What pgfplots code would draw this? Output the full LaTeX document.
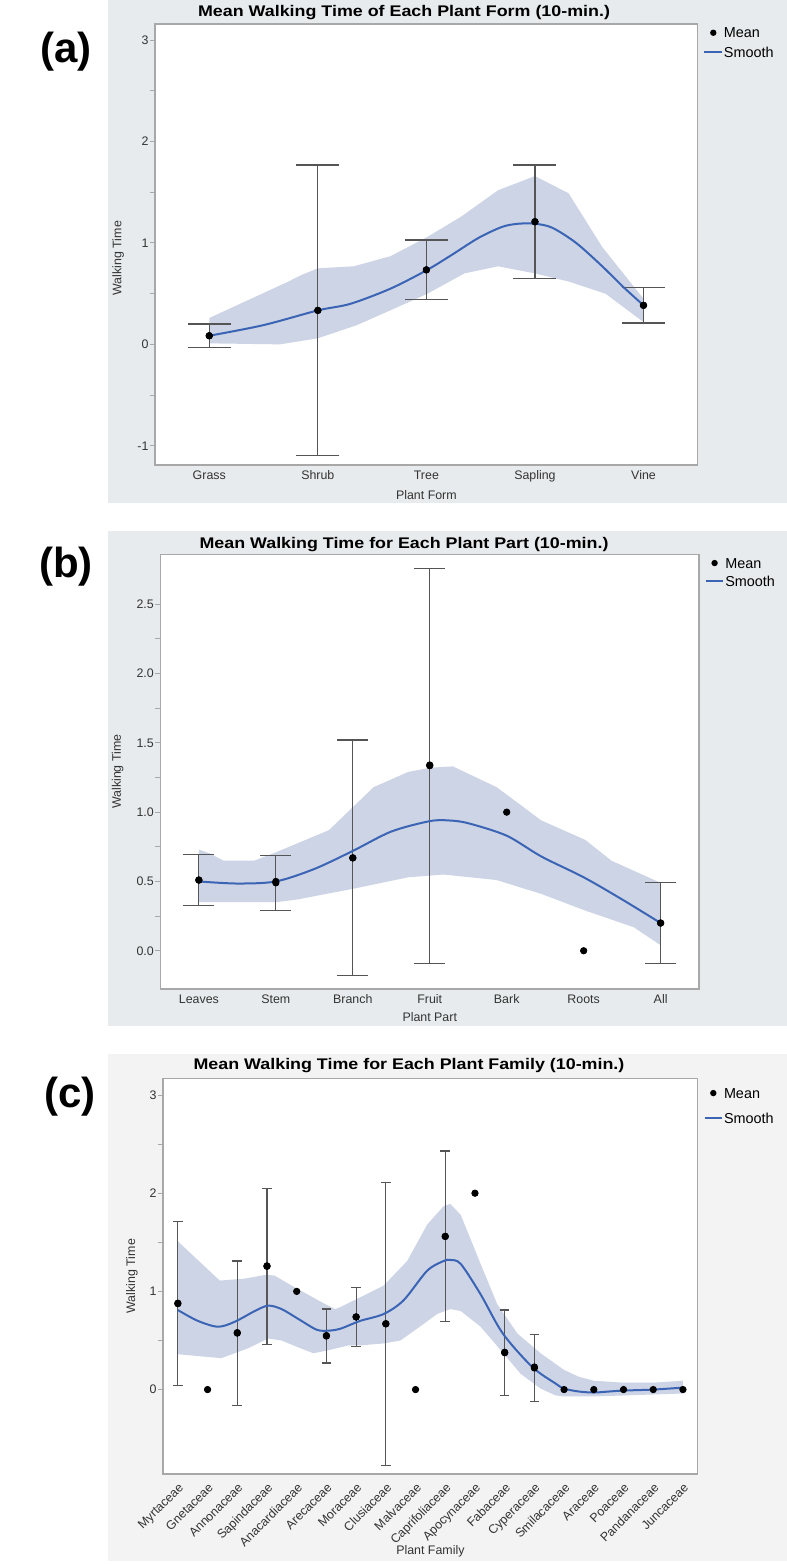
\documentclass[border=0pt]{standalone}
\usepackage{pgfplots}
\pgfplotsset{compat=1.18}
\usepackage{graphicx}
\usepackage{fontspec}
\setmainfont{Liberation Sans}
\definecolor{bgA}{HTML}{E8EBED}
\definecolor{bgC}{HTML}{F3F3F3}
\definecolor{band}{HTML}{CDD4E6}
\definecolor{smoothblue}{HTML}{3B64B4}
\definecolor{frame}{HTML}{A8A8A8}
\definecolor{ebar}{HTML}{555555}
\definecolor{ticktext}{HTML}{333333}

\pgfplotsset{
  jmp/.style={
    scale only axis,
    anchor=south west,
    axis background/.style={fill=white},
    axis line style={frame, line width=0.6pt},
    tick align=outside,
    xtick pos=bottom, ytick pos=left,
    major tick length=2.5pt, minor tick length=2.5pt,
    ytick style={frame, line width=0.5pt},
    minor y tick style={frame, line width=0.5pt},
    xtick style={draw=none},
    tick label style={font=\fontsize{6.2}{7}\selectfont, text=ticktext},
    yticklabel style={inner sep=0.6pt},
    /pgf/number format/assume math mode=true,
    label style={font=\fontsize{6.2}{7}\selectfont, text=ticktext},
    xlabel style={anchor=center},
    ylabel style={anchor=center},
    legend style={draw=none, fill=none, at={(axis description cs:1,1)}, anchor=north west,
      xshift=2.85pt, yshift=-1.4pt, font=\fontsize{7.2}{8}\selectfont, inner sep=0pt, outer sep=0pt,
      row sep=3.5pt, nodes={inner sep=0.5pt, text depth=0pt}},
    legend cell align=left,
  },
  straightx/.style={xticklabel style={inner sep=0pt, text height=4.6pt, text depth=1.3pt}},
  meanleg/.style={legend image code/.code={\path[draw=none] (0pt,0pt) -- (8.75pt,0pt); \fill[black, draw=none] (4.4pt,0pt) circle (1.6pt);}},
  lineleg/.style={legend image code/.code={\draw[smoothblue, line width=1pt] (0pt,0pt) -- (8.75pt,0pt);}},
}
\newcommand{\ttl}[1]{\scalebox{1.16}[1]{\fontsize{7.7}{9}\selectfont\bfseries #1}}

\begin{document}
\begin{tikzpicture}
\useasboundingbox (0,0) rectangle (393.5pt,-782.5pt);
\fill[bgA] (54pt,0pt) rectangle (393.5pt,-251.5pt);
\fill[bgA] (54pt,-265.3pt) rectangle (393.5pt,-513pt);
\fill[bgC] (54pt,-527pt) rectangle (393.5pt,-780.5pt);

\node[font=\fontsize{21}{24}\selectfont\bfseries] at (33pt,-25.8pt) {(a)};
\node[font=\fontsize{21}{24}\selectfont\bfseries] at (33pt,-283.5pt) {(b)};
\node[font=\fontsize{21}{24}\selectfont\bfseries] at (35pt,-548.5pt) {(c)};

\node at (202pt,-6.5pt) {\ttl{Mean Walking Time of Each Plant Form (10-min.)}};
\node at (202pt,-272.5pt) {\ttl{Mean Walking Time for Each Plant Part (10-min.)}};
\node at (204.5pt,-533pt) {\ttl{Mean Walking Time for Each Plant Family (10-min.)}};

% ---------------- panel (a)
\begin{axis}[jmp, straightx, at={(77.5pt,-232.5pt)}, width=271.4pt, height=220.5pt,
  xmin=-0.5, xmax=4.5, ymin=-1.19, ymax=3.16,
  xtick={0,1,2,3,4}, xticklabels={Grass,Shrub,Tree,Sapling,Vine},
  ytick={-1,0,1,2,3}, minor y tick num=1,
  xlabel={Plant Form}, ylabel={Walking Time},
  xlabel style={at={(axis description cs:0.5,-0.068)}},
  ylabel style={at={(axis description cs:-0.068,0.469)}},
]
\addplot[fill=band, draw=none, forget plot] coordinates {
(0,0.26) (0.73,0.62) (0.84,0.68) (1,0.75) (1.33,0.77) (1.67,0.87) (2.01,1.06) (2.32,1.26) (2.66,1.52) (3,1.66) (3.31,1.49) (3.62,0.96) (4,0.45)
(4,0.22) (3.65,0.50) (3.31,0.62) (3,0.70) (2.66,0.77) (2.35,0.70) (2.01,0.50) (1.74,0.37) (1.36,0.19) (1,0.06) (0.65,0.0) (0,0.01)} -- cycle;
\addplot[only marks, mark=*, mark size=1.6pt, black, meanleg,
  error bars/.cd, y dir=both, y explicit,
  error bar style={ebar, line width=0.6pt},
  error mark options={ebar, rotate=90, mark size=10.75pt, line width=0.6pt}]
  table[x=x, y=y, y error plus=ep, y error minus=em] {
x y ep em
0 0.085 0.115 0.115
1 0.335 1.435 1.435
2 0.735 0.295 0.295
3 1.21 0.56 0.56
4 0.385 0.175 0.175
};
\addlegendentry{Mean}
\addplot[smoothblue, line width=1pt, smooth, tension=0.5, lineleg] coordinates {
(0,0.085) (0.5,0.19) (1,0.335) (1.30,0.40) (1.67,0.55) (2,0.73) (2.23,0.88) (2.48,1.05) (2.70,1.16) (2.85,1.19) (3,1.19) (3.16,1.15) (3.38,1.00) (3.62,0.77) (3.81,0.57) (4,0.385)};
\addlegendentry{Smooth}
\addplot[only marks, mark=*, mark size=1.6pt, black, forget plot] coordinates {
(0,0.085) (1,0.335) (2,0.735) (3,1.21) (4,0.385)};
\end{axis}

% ---------------- panel (b)
\begin{axis}[jmp, straightx, at={(80.2pt,-494.5pt)}, width=269.35pt, height=217.35pt,
  xmin=-0.5, xmax=6.5, ymin=-0.276, ymax=2.86,
  xtick={0,...,6}, xticklabels={Leaves,Stem,Branch,Fruit,Bark,Roots,All},
  ytick={0,0.5,1,1.5,2,2.5}, minor y tick num=1,
  yticklabel style={/pgf/number format/.cd, fixed, fixed zerofill, precision=1},
  xlabel={Plant Part}, ylabel={Walking Time},
  xlabel style={at={(axis description cs:0.5,-0.064)}},
  ylabel style={at={(axis description cs:-0.0795,0.5)}},
  legend style={row sep=3pt},
]
\addplot[fill=band, draw=none, forget plot] coordinates {
(0,0.73) (0.15,0.70) (0.32,0.65) (0.72,0.65) (1,0.71) (1.69,0.87) (2.27,1.18) (2.72,1.29) (3.0,1.32) (3.30,1.33) (3.87,1.18) (4.45,0.94) (5.02,0.80) (5.36,0.65) (6,0.49)
(6,0.04) (5.65,0.17) (5.02,0.29) (4.45,0.41) (3.87,0.51) (3.18,0.55) (2.72,0.53) (2.03,0.45) (1.28,0.37) (1,0.35) (0,0.35)} -- cycle;
\addplot[only marks, mark=*, mark size=1.6pt, black, meanleg,
  error bars/.cd, y dir=both, y explicit,
  error bar style={ebar, line width=0.6pt},
  error mark options={ebar, rotate=90, mark size=7.7pt, line width=0.6pt}]
  table[x=x, y=y, y error plus=ep, y error minus=em] {
x y ep em
0 0.51 0.185 0.185
1 0.49 0.20 0.20
2 0.67 0.85 0.85
3 1.335 1.425 1.425
6 0.20 0.29 0.29
};
\addlegendentry{Mean}
\addplot[smoothblue, line width=1pt, smooth, tension=0.5, lineleg] coordinates {
(0,0.50) (0.5,0.485) (1,0.50) (1.5,0.59) (2,0.72) (2.5,0.86) (3,0.935) (3.25,0.94) (3.5,0.92) (4,0.83) (4.45,0.68) (5,0.53) (5.5,0.37) (6,0.20)};
\addlegendentry{Smooth}
\addplot[only marks, mark=*, mark size=1.6pt, black, forget plot] coordinates {
(0,0.51) (1,0.50) (2,0.67) (3,1.34) (4,1.00) (5,0.00) (6,0.20)};
\end{axis}

% ---------------- panel (c)
\begin{axis}[jmp, at={(81.5pt,-737pt)}, width=267.4pt, height=197.85pt,
  xmin=-0.5, xmax=17.5, ymin=-0.86, ymax=3.17,
  xtick={0,...,17},
  xticklabels={Myrtaceae,Gnetaceae,Annonaceae,Sapindaceae,Anacardiaceae,Arecaceae,Moraceae,Clusiaceae,Malvaceae,Caprifoliaceae,Apocynaceae,Fabaceae,Cyperaceae,Smilacaceae,Araceae,Poaceae,Pandanaceae,Juncaceae},
  xticklabel style={rotate=45, anchor=north east, inner sep=1pt},
  ytick={0,1,2,3}, minor y tick num=1,
  xlabel={Plant Family}, ylabel={Walking Time},
  xlabel style={at={(axis description cs:0.5,-0.196)}},
  ylabel style={at={(axis description cs:-0.058,0.5)}},
  legend style={row sep=6.5pt, yshift=-3pt},
]
\addplot[fill=band, draw=none, forget plot] coordinates {
(0,1.51) (1.41,1.11) (2.25,1.13) (2.98,1.17) (3.26,1.16) (3.94,1.04) (4.84,0.89) (5.29,0.82) (5.47,0.84) (6.14,0.94) (6.93,1.06) (7.72,1.31) (8.39,1.68) (8.95,1.87) (9.17,1.89) (9.52,1.78) (10.19,1.28) (10.75,0.87) (11.43,0.57) (12.21,0.37) (12.72,0.26) (13,0.20) (13.5,0.13) (14,0.09) (15,0.07) (16,0.07) (17,0.09)
(17,-0.04) (16,-0.05) (15,-0.06) (14,-0.07) (13.5,-0.07) (13,-0.07) (12.72,-0.06) (12.21,0.01) (11.54,0.16) (10.87,0.40) (10.19,0.64) (9.52,0.80) (9.17,0.82) (8.73,0.77) (8.05,0.62) (7.49,0.50) (6.93,0.47) (6.14,0.45) (5.74,0.45) (5.06,0.40) (4.56,0.37) (4.05,0.43) (3.49,0.50) (3.04,0.52) (2.36,0.42) (1.46,0.32) (0,0.36)} -- cycle;
\addplot[only marks, mark=*, mark size=1.6pt, black, meanleg,
  error bars/.cd, y dir=both, y explicit,
  error bar style={ebar, line width=0.6pt},
  error mark options={ebar, rotate=90, mark size=2.4pt, line width=0.6pt}]
  table[x=x, y=y, y error plus=ep, y error minus=em] {
x y ep em
0 0.875 0.835 0.835
2 0.575 0.735 0.735
3 1.255 0.795 0.795
5 0.545 0.275 0.275
6 0.74 0.30 0.30
7 0.67 1.44 1.44
9 1.56 0.87 0.87
11 0.375 0.435 0.435
12 0.22 0.34 0.34
};
\addlegendentry{Mean}
\addplot[smoothblue, line width=1pt, smooth, tension=0.5, lineleg] coordinates {
(0,0.81) (0.67,0.70) (1.35,0.64) (1.91,0.69) (2.59,0.80) (3.04,0.855) (3.49,0.82) (4.05,0.72) (4.67,0.61) (5.06,0.60) (5.47,0.62) (6.14,0.70) (6.93,0.77) (7.60,0.91) (8.39,1.21) (8.95,1.31) (9.17,1.32) (9.52,1.28) (10.19,0.97) (10.94,0.57) (11.93,0.23) (12.72,0.06) (13,0.01) (13.5,-0.02) (14,-0.03) (14.5,-0.02) (15,-0.01) (16,0.0) (17,0.02)};
\addlegendentry{Smooth}
\addplot[only marks, mark=*, mark size=1.6pt, black, forget plot] coordinates {
(0,0.88) (1,0) (2,0.58) (3,1.26) (4,1.00) (5,0.55) (6,0.74) (7,0.67) (8,0) (9,1.56) (10,2.0) (11,0.38) (12,0.23) (13,0) (14,0) (15,0) (16,0) (17,0)};
\end{axis}
\end{tikzpicture}
\end{document}
